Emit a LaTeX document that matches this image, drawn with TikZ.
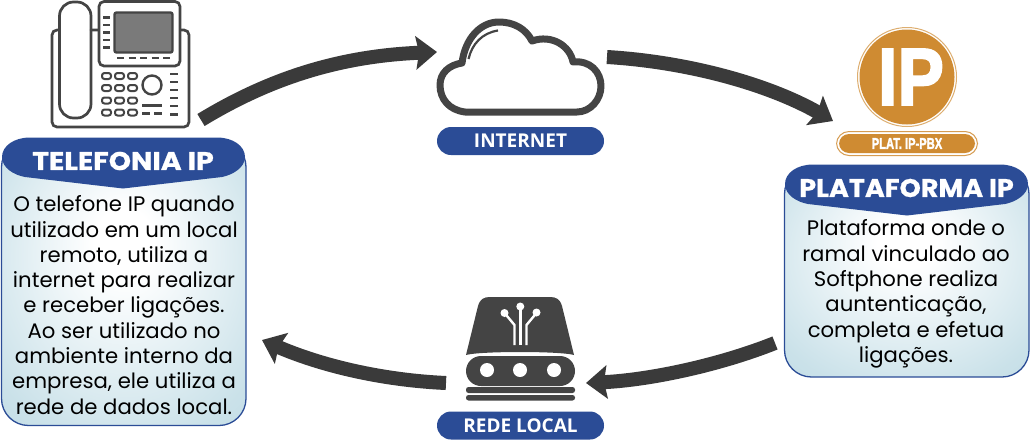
\documentclass[tikz,border=0pt]{standalone}
\usepackage{fontspec}
\setmainfont{Poppins}
\newfontfamily\opensans{Open Sans}
\newfontfamily\libsans[BoldFeatures={FakeBold=2.5}]{Liberation Sans}
\newfontfamily\headfont[BoldFeatures={FakeBold=0.8}]{Poppins}
\usetikzlibrary{arrows.meta,shapes.geometric,fadings}
\definecolor{navy}{HTML}{2B4C96}
\definecolor{ink}{HTML}{444444}
\definecolor{arrowink}{HTML}{3A3A3A}
\definecolor{ochre}{HTML}{CF8B32}
\definecolor{paleblue}{HTML}{B4D5E0}
\pgfdeclareradialshading{panelglow}{\pgfpoint{0bp}{8bp}}{color(0bp)=(white); color(6bp)=(white); color(32bp)=(paleblue!70!white); color(50bp)=(paleblue)}
\tikzset{
 flow/.style={draw=arrowink,line width=14pt,-{Stealth[length=21pt,width=33pt,inset=3pt]}},
 phoneline/.style={draw=ink,line width=2.7pt,line cap=round},
 phonebox/.style={draw=ink,line width=2.7pt,fill=white},
 pill/.style={fill=navy,rounded corners=14pt,text=white,font=\opensans\bfseries\fontsize{19}{22}\selectfont,minimum width=167pt,minimum height=28pt,inner sep=0pt,anchor=center},
 panelbody/.style={draw=navy,line width=1.3pt,rounded corners=27pt,shading=panelglow},
 headertext/.style={text=white,font=\headfont\bfseries\fontsize{25.5}{28}\selectfont,inner sep=0pt,xscale=1.06},
 bodytext/.style={align=center,font=\fontsize{21}{25.3}\selectfont,text=black,inner sep=0pt,xscale=1.01},
}
\begin{document}
\begin{tikzpicture}[x=1pt,y=-1pt]
\useasboundingbox (0,0) rectangle (1030,440);
% ---- left panel
\path[panelbody] (1.5,140) rectangle (246,425.5);
\fill[navy] (2,157) .. controls (2,146) and (14,137.5) .. (30,137.5) -- (217,137.5) .. controls (233,137.5) and (245,146) .. (245,157) .. controls (245,168) and (232,175) .. (222,177) -- (123,188.5) -- (25,177) .. controls (14,175) and (2,168) .. (2,157) -- cycle;
\node[headertext,xscale=1.05] (telhead) at (123,161) {TELEFONIA IP};
\node[bodytext] (telbody) at (124,305) {O telefone IP quando\\utilizado em um local\\remoto, utiliza a\\internet para realizar\\e receber ligações.\\Ao ser utilizado no\\ambiente interno da\\empresa, ele utiliza a\\rede de dados local.};
% ---- right panel
\path[panelbody] (784.5,167) rectangle (1029,377);
\fill[navy] (785,184) .. controls (785,173) and (797,164.5) .. (813,164.5) -- (1000,164.5) .. controls (1016,164.5) and (1028,173) .. (1028,184) .. controls (1028,195) and (1015,202) .. (1005,204) -- (907,215.5) -- (808,204) .. controls (797,202) and (785,195) .. (785,184) -- cycle;
\node[headertext] (plathead) at (906.5,188) {PLATAFORMA IP};
\node[bodytext] (platbody) at (906,294) {Plataforma onde o\\ramal vinculado ao\\Softphone realiza\\auntenticação,\\completa e efetua\\ligações.};
% ---- pills
\node[pill] (internet) at (520.5,141) {INTERNET};
\node[pill] (rede) at (520.5,425.5) {REDE LOCAL};
% ---- phone
\draw[phonebox,rounded corners=5pt] (52,30) rectangle (189,127);
\draw[phonebox,rounded corners=14pt] (59.5,2) rectangle (91,118);
\draw[phoneline] (91,30) -- (99,30);
\draw[phonebox,rounded corners=5pt] (99,1.5) rectangle (180,66);
\draw[draw=ink,line width=2.4pt,fill=black!52,rounded corners=2pt] (114.5,12.5) rectangle (172.5,52.5);
\foreach \yy in {17.5,25,32.5,40,47.5} \draw[draw=ink,line width=2.2pt] (103,\yy) -- (110,\yy);
\foreach \xx in {117,128.5,140,151.5,163} \draw[draw=ink,line width=2.2pt] (\xx,58) -- (\xx+7,58);
\foreach \xx in {106.5,119.5,132.5} \foreach \yy in {76,88,100.5,112.5}
  \draw[draw=ink,line width=2pt,fill=white,rounded corners=2.5pt] (\xx-4.5,\yy-3) rectangle (\xx+4.5,\yy+3);
\draw[draw=ink,line width=2.4pt,fill=white] (152,85) circle (9.5);
\draw[draw=ink,line width=3pt] (142,105.5) -- (162,105.5);
\foreach \xx in {142,154} \draw[draw=ink,line width=2.2pt] (\xx,113.5) -- (\xx+8,113.5);
\foreach \yy in {74,82,90,98,106,114.5} \draw[draw=ink,line width=2.2pt] (170,\yy) -- (178,\yy);
\coordinate (phoneout) at (201,120);
% ---- cloud
\draw[draw=ink,line width=7pt,fill=white,line join=round] (465,112) .. controls (449,110) and (440,99) .. (440,85) .. controls (440,73) and (449,65) .. (462,63) .. controls (465,39) and (480,22) .. (499,22) .. controls (514,22) and (526,29) .. (532,41) .. controls (552,34) and (570,46) .. (573,62) .. controls (590,60) and (601,72) .. (601,86) .. controls (601,100) and (590,112) .. (577,112) -- cycle;
\draw[draw=ink,line width=2.2pt] (468.5,59) .. controls (472,44) and (482,33) .. (498,30.5);
\coordinate (cloudin) at (437,52);
\coordinate (cloudout) at (607,57);
% ---- IP badge
\draw[draw=ochre!70!white,line width=1pt,fill=white] (907,77) circle (49.5);
\fill[ochre] (907,77) circle (47.5);
\node[text=white,inner sep=0pt,font=\libsans\bfseries\fontsize{81}{81}\selectfont,xscale=.86] (ipmark) at (911,77) {IP};
\draw[draw=ochre!85!white,line width=1pt,fill=white,rounded corners=12.5pt] (836.5,131.5) rectangle (977.5,155.5);
\fill[ochre,rounded corners=10pt] (839,134) rectangle (975,153);
\node[text=white,inner sep=0pt,font=\libsans\bfseries\fontsize{15.5}{16}\selectfont,xscale=.72] (platlabel) at (907,143.5) {PLAT. IP-PBX};
\coordinate (ipin) at (833,121);
% ---- router
\fill[ink] (466,355) -- (478,306) .. controls (480,299) and (484,297) .. (490,297) -- (550,297) .. controls (556,297) and (560,299) .. (562,306) -- (574,355) .. controls (560,351) and (480,351) .. (466,355) -- cycle;
\fill[ink,rounded corners=15pt] (466,356) rectangle (575,386);
\foreach \xx in {487,520,554} \fill[white] (\xx,370) circle (7);
\fill[ink,rounded corners=2.5pt] (466,387) rectangle (575,393);
\fill[ink,rounded corners=2.5pt] (466,395) rectangle (575,400.5);
\draw[white,line width=2.4pt,line join=round] (520.3,345) -- (520.3,306);
\draw[white,line width=2.4pt,line join=round] (514.5,345) -- (514.5,325) -- (504.5,313);
\draw[white,line width=2.4pt,line join=round] (526.5,345) -- (526.5,325) -- (536.5,313);
\fill[white] (520.3,306.5) circle (4);
\fill[white] (504.5,313) circle (4);
\fill[white] (536.5,312.5) circle (4);
\coordinate (routerin) at (586,383);
\coordinate (routerout) at (446,383);
\coordinate (platout) at (775,343);
\coordinate (telin) at (262,340);
% ---- connectors
\draw[flow] (phoneout) .. controls (270,78) and (340,56) .. (cloudin);
\draw[flow] (cloudout) .. controls (690,62) and (770,85) .. (ipin);
\draw[flow] (platout) .. controls (720,365) and (650,380) .. (routerin);
\draw[flow] (routerout) .. controls (380,380) and (320,365) .. (telin);
\end{tikzpicture}
\end{document}
